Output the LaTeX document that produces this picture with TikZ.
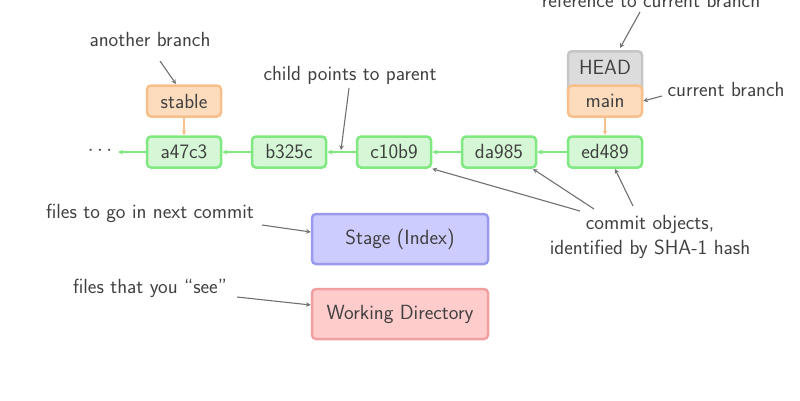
\documentclass[tikz,border=0pt]{standalone}
\usepackage{tikz}
\usetikzlibrary{positioning}
\usetikzlibrary{arrows}

\definecolor{txtgray}{HTML}{404040}
\definecolor{arrgray}{HTML}{707070}
\definecolor{commitline}{HTML}{80E880}
\definecolor{commitfill}{HTML}{D6F7D6}
\definecolor{branchline}{HTML}{F7BF8C}
\definecolor{branchfill}{HTML}{FDDCBE}
\definecolor{headline}{HTML}{C6C6C6}
\definecolor{headfill}{HTML}{DCDCDC}
\definecolor{stageline}{HTML}{9A9AEE}
\definecolor{stagefill}{HTML}{CCCCFF}
\definecolor{workline}{HTML}{F0A0A0}
\definecolor{workfill}{HTML}{FFCCCC}

\tikzset{
  box/.style={rounded corners=4pt, line width=2.5pt, text=txtgray,
    minimum width=74pt, minimum height=31pt, inner sep=0pt},
  commit/.style={box, draw=commitline, fill=commitfill},
  branch/.style={box, draw=branchline, fill=branchfill},
  headbox/.style={box, draw=headline, fill=headfill},
  area/.style={box, minimum width=176pt, minimum height=50pt},
  note/.style={text=txtgray, align=center},
  pointer/.style={->, >=stealth, draw=arrgray, line width=1.1pt},
  parent/.style={->, >=stealth, draw=commitline, line width=1.3pt},
  onto/.style={->, >=stealth, draw=branchline, line width=1.1pt}
}

\begin{document}
\begin{tikzpicture}[x=1pt, y=-1pt, font=\sffamily\fontsize{20.5}{25}\selectfont]
    \useasboundingbox (0,0) rectangle (800,400);

    % Cadena de commits
    \node[commit] (a47c3) at (184,152) {a47c3};
    \node[commit] (b325c) at (289,152) {b325c};
    \node[commit] (c10b9) at (394,152) {c10b9};
    \node[commit] (da985) at (499,152) {da985};
    \node[commit] (ed489) at (605,152) {ed489};
    \node[text=txtgray] (dots) at (100,151) {$\cdots$};

    \draw[parent] (a47c3) -- (118,152);
    \draw[parent] (b325c) -- (a47c3);
    \draw[parent] (c10b9) -- (b325c);
    \draw[parent] (da985) -- (c10b9);
    \draw[parent] (ed489) -- (da985);

    % Ramas y HEAD (HEAD queda detras de main)
    \node[branch] (stable) at (184,101) {stable};
    \node[headbox, minimum height=48pt, anchor=north] (head) at (605,50) {};
    \node[text=txtgray] (headtext) at (605,67) {HEAD};
    \node[branch] (main) at (605,101) {main};
    \draw[onto] (stable) -- (a47c3);
    \draw[onto] (main) -- (ed489);

    % Areas de trabajo
    \node[area, draw=stageline, fill=stagefill] (stage) at (400,239) {Stage (Index)};
    \node[area, draw=workline, fill=workfill] (work) at (400,314) {Working Directory};

    % Notas
    \node[note] (another) at (150,39) {another branch};
    \node[note] (child) at (350,75) {child points to parent};
    \node[note] (refhead) at (651,0) {reference to current branch};
    \node[note, anchor=west] (curbranch) at (664,89) {current branch};
    \node[note] (objects) at (650,237) {commit objects,\\identified by SHA-1 hash};
    \node[note] (nextcommit) at (150,213) {files to go in next commit};
    \node[note] (yousee) at (150,288) {files that you ``see''};

    \coordinate (childtip) at (341,150);

    \draw[pointer] (160,61) -- (176,84);
    \draw[pointer] (349,88) -- (childtip);
    \draw[pointer] (640,12) -- (620,48);
    \draw[pointer] (662,96) -- (main.east);
    \draw[pointer] (580,211) -- (c10b9.south east);
    \draw[pointer] (594,209) -- (533,169);
    \draw[pointer] (633,206) -- (615,169);
    \draw[pointer] (262,225) -- (stage.west |- 0,232);
    \draw[pointer] (237,297) -- (work.west |- 0,305);

\end{tikzpicture}
\end{document}
